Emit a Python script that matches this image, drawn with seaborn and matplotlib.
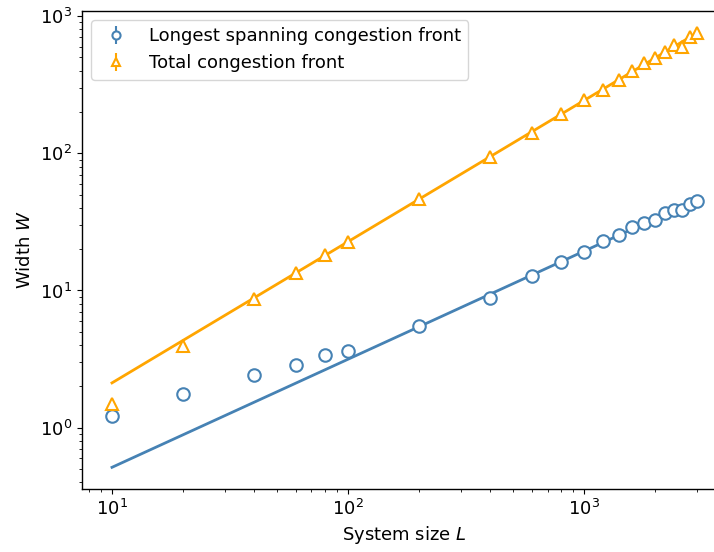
import numpy as np
import pandas as pd
import matplotlib
matplotlib.use("Agg")
import matplotlib.pyplot as plt
import seaborn as sns

# ---- data ----
L = [10, 20, 40, 60, 80, 100, 200, 400, 600, 800, 1000, 1200, 1400, 1600,
     1800, 2000, 2200, 2400, 2600, 2800, 3000]
W_longest = [1.22, 1.77, 2.43, 2.86, 3.40, 3.63, 5.53, 8.85, 12.8, 16.2, 19.1,
             23.0, 25.5, 29.0, 30.8, 32.4, 36.8, 38.5, 38.5, 43.0, 45.0]
W_total = [1.49, 3.96, 8.66, 13.4, 18.0, 22.6, 46.5, 94.6, 141.5, 192.7, 244.8,
           289.6, 342.6, 396.0, 453.0, 498.0, 548.0, 613.0, 598.0, 708.0, 750.0]
# power-law fit lines (endpoints)
fit_L = [10, 3000]
fit_longest = [0.514, 46.0]
fit_total = [2.12, 752.0]

labels = ["Longest spanning congestion front", "Total congestion front"]
c_blue = "#4682b4"
c_orange = "#ffa500"

plt.rcParams["font.family"] = ["DejaVu Sans"]
plt.rcParams["font.size"] = 13
plt.rcParams["axes.linewidth"] = 1.0

fig = plt.figure(figsize=(7.14, 5.52), dpi=100)
ax = fig.add_axes([82 / 714, (552 - 489) / 552, 644 / 714, 478 / 552])

fit_df = pd.DataFrame({"L": fit_L * 2,
                       "W": fit_longest + fit_total,
                       "s": ["a", "a", "b", "b"]})
sns.lineplot(data=fit_df, x="L", y="W", hue="s",
             palette=[c_blue, c_orange], linewidth=2, legend=False, ax=ax)

ax.errorbar(L, W_longest, yerr=np.zeros(len(L)), fmt="o", color=c_blue,
            mfc="white", mec=c_blue, ms=9, mew=1.5, label=labels[0], zorder=3)
ax.errorbar(L, W_total, yerr=np.zeros(len(L)), fmt="^", color=c_orange,
            mfc="white", mec=c_orange, ms=9, mew=1.5, label=labels[1], zorder=3)

ax.set_xscale("log")
ax.set_yscale("log")
ax.set_xlim(10 ** 0.873, 10 ** 3.601)
ax.set_ylim(10 ** -0.447, 10 ** 3.037)
ax.set_xlabel("System size $L$")
ax.set_ylabel("Width $W$")
ax.tick_params(which="both", direction="out", colors="black")
ax.legend(loc="upper left", fontsize=13, handletextpad=0.8, markerscale=0.65,
          borderpad=0.4)

fig.savefig("out.png", dpi=100)
